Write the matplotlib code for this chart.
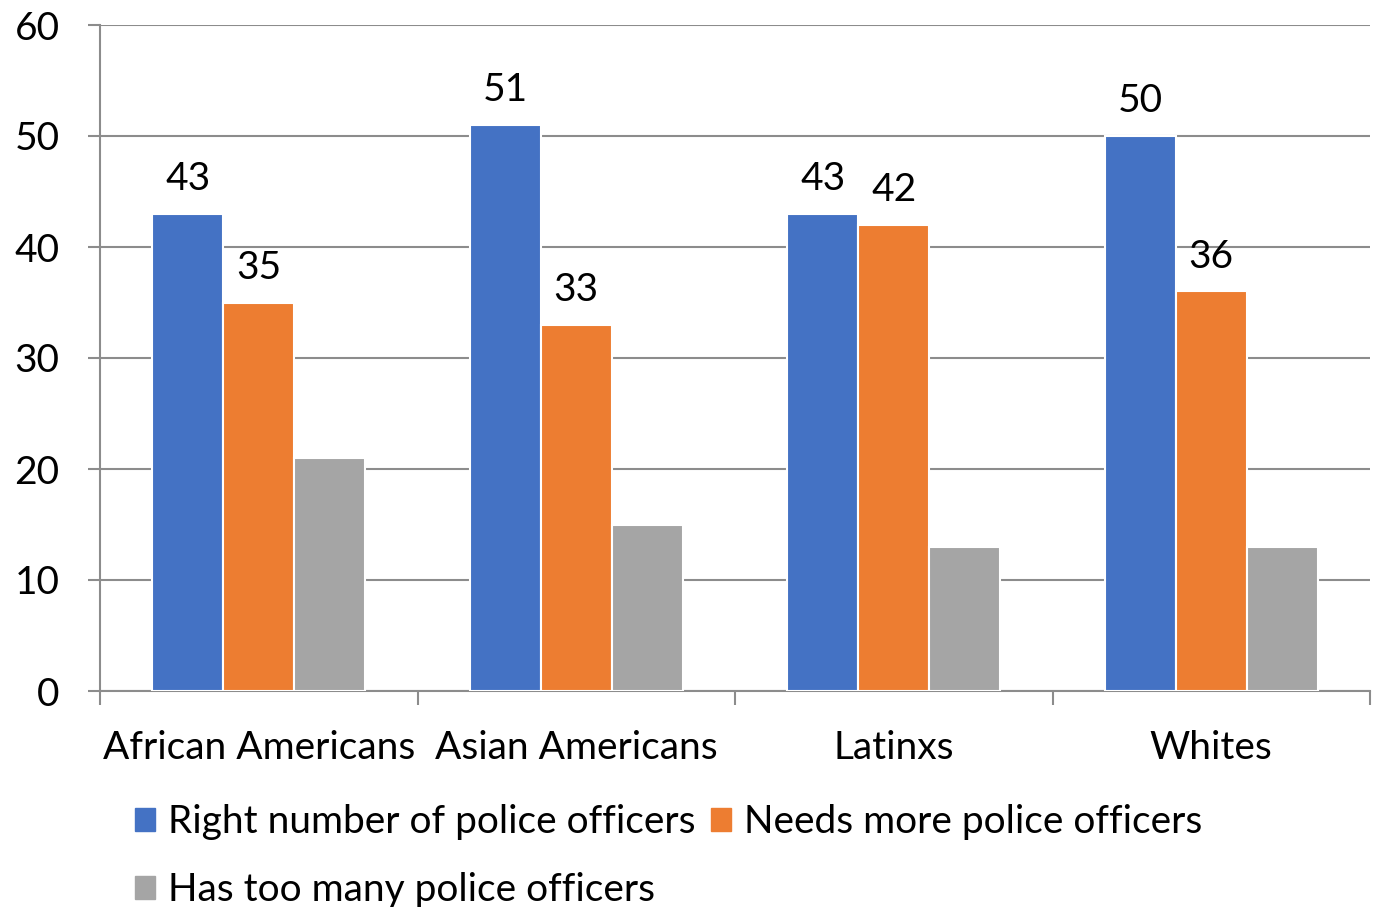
import numpy as np
import matplotlib.pyplot as plt
from matplotlib.patches import Patch

plt.rcParams['font.family'] = ['Lato', 'DejaVu Sans']

groups = ['African Americans', 'Asian Americans', 'Latinxs', 'Whites']
series_names = ['Right number of police officers', 'Needs more police officers', 'Has too many police officers']
right_number = [43, 51, 43, 50]
needs_more = [35, 33, 42, 36]
too_many = [21, 15, 13, 13]
colors = ['#4472C4', '#ED7D31', '#A5A5A5']

fig = plt.figure(figsize=(13.83, 9.07), dpi=100)
ax = fig.add_axes([100 / 1383, 1 - 691 / 907, 1270 / 1383, 666 / 907])

x = np.arange(len(groups))
w = 0.224
all_vals = [right_number, needs_more, too_many]
for i, vals in enumerate(all_vals):
    bars = ax.bar(x + (i - 1) * w, vals, w, color=colors[i], edgecolor='white', linewidth=1.5, zorder=3)
    if i < 2:
        for b, v in zip(bars, vals):
            ax.annotate(str(v), (b.get_x() + b.get_width() / 2, v), xytext=(0, 25), textcoords='offset points',
                        ha='center', va='center', fontsize=28)

ax.set_xlim(-0.5, len(groups) - 0.5)
ax.set_ylim(0, 60)
ax.set_yticks(range(0, 61, 10))
ax.yaxis.grid(True, color='#8C8C8C', linewidth=1.5, zorder=0)
for s in ['top', 'right']:
    ax.spines[s].set_visible(False)
for s in ['left', 'bottom']:
    ax.spines[s].set_color('#8C8C8C')
    ax.spines[s].set_linewidth(1.5)
ax.tick_params(axis='y', length=9, width=1.5, color='#8C8C8C', pad=20, labelsize=28)
# category labels centered, tick marks on category boundaries
ax.set_xticks(np.arange(-0.5, len(groups), 1.0))
ax.set_xticklabels([])
ax.set_xticks(x, minor=True)
ax.set_xticklabels(groups, minor=True)
ax.tick_params(axis='x', which='major', length=10, width=1.5, color='#8C8C8C')
ax.tick_params(axis='x', which='minor', length=0, pad=28, labelsize=28)

handles = [Patch(color=c) for c in colors]
order = [0, 2, 1]
fig.legend([handles[k] for k in order], [series_names[k] for k in order], ncol=2, frameon=False,
           loc='upper left', bbox_to_anchor=(135 / 1383, 1 - 804 / 907), fontsize=28,
           handlelength=0.52, handleheight=0.52, handletextpad=0.33, columnspacing=0.4, labelspacing=0.83,
           borderaxespad=0, borderpad=0)

fig.savefig('out.png', dpi=100)
